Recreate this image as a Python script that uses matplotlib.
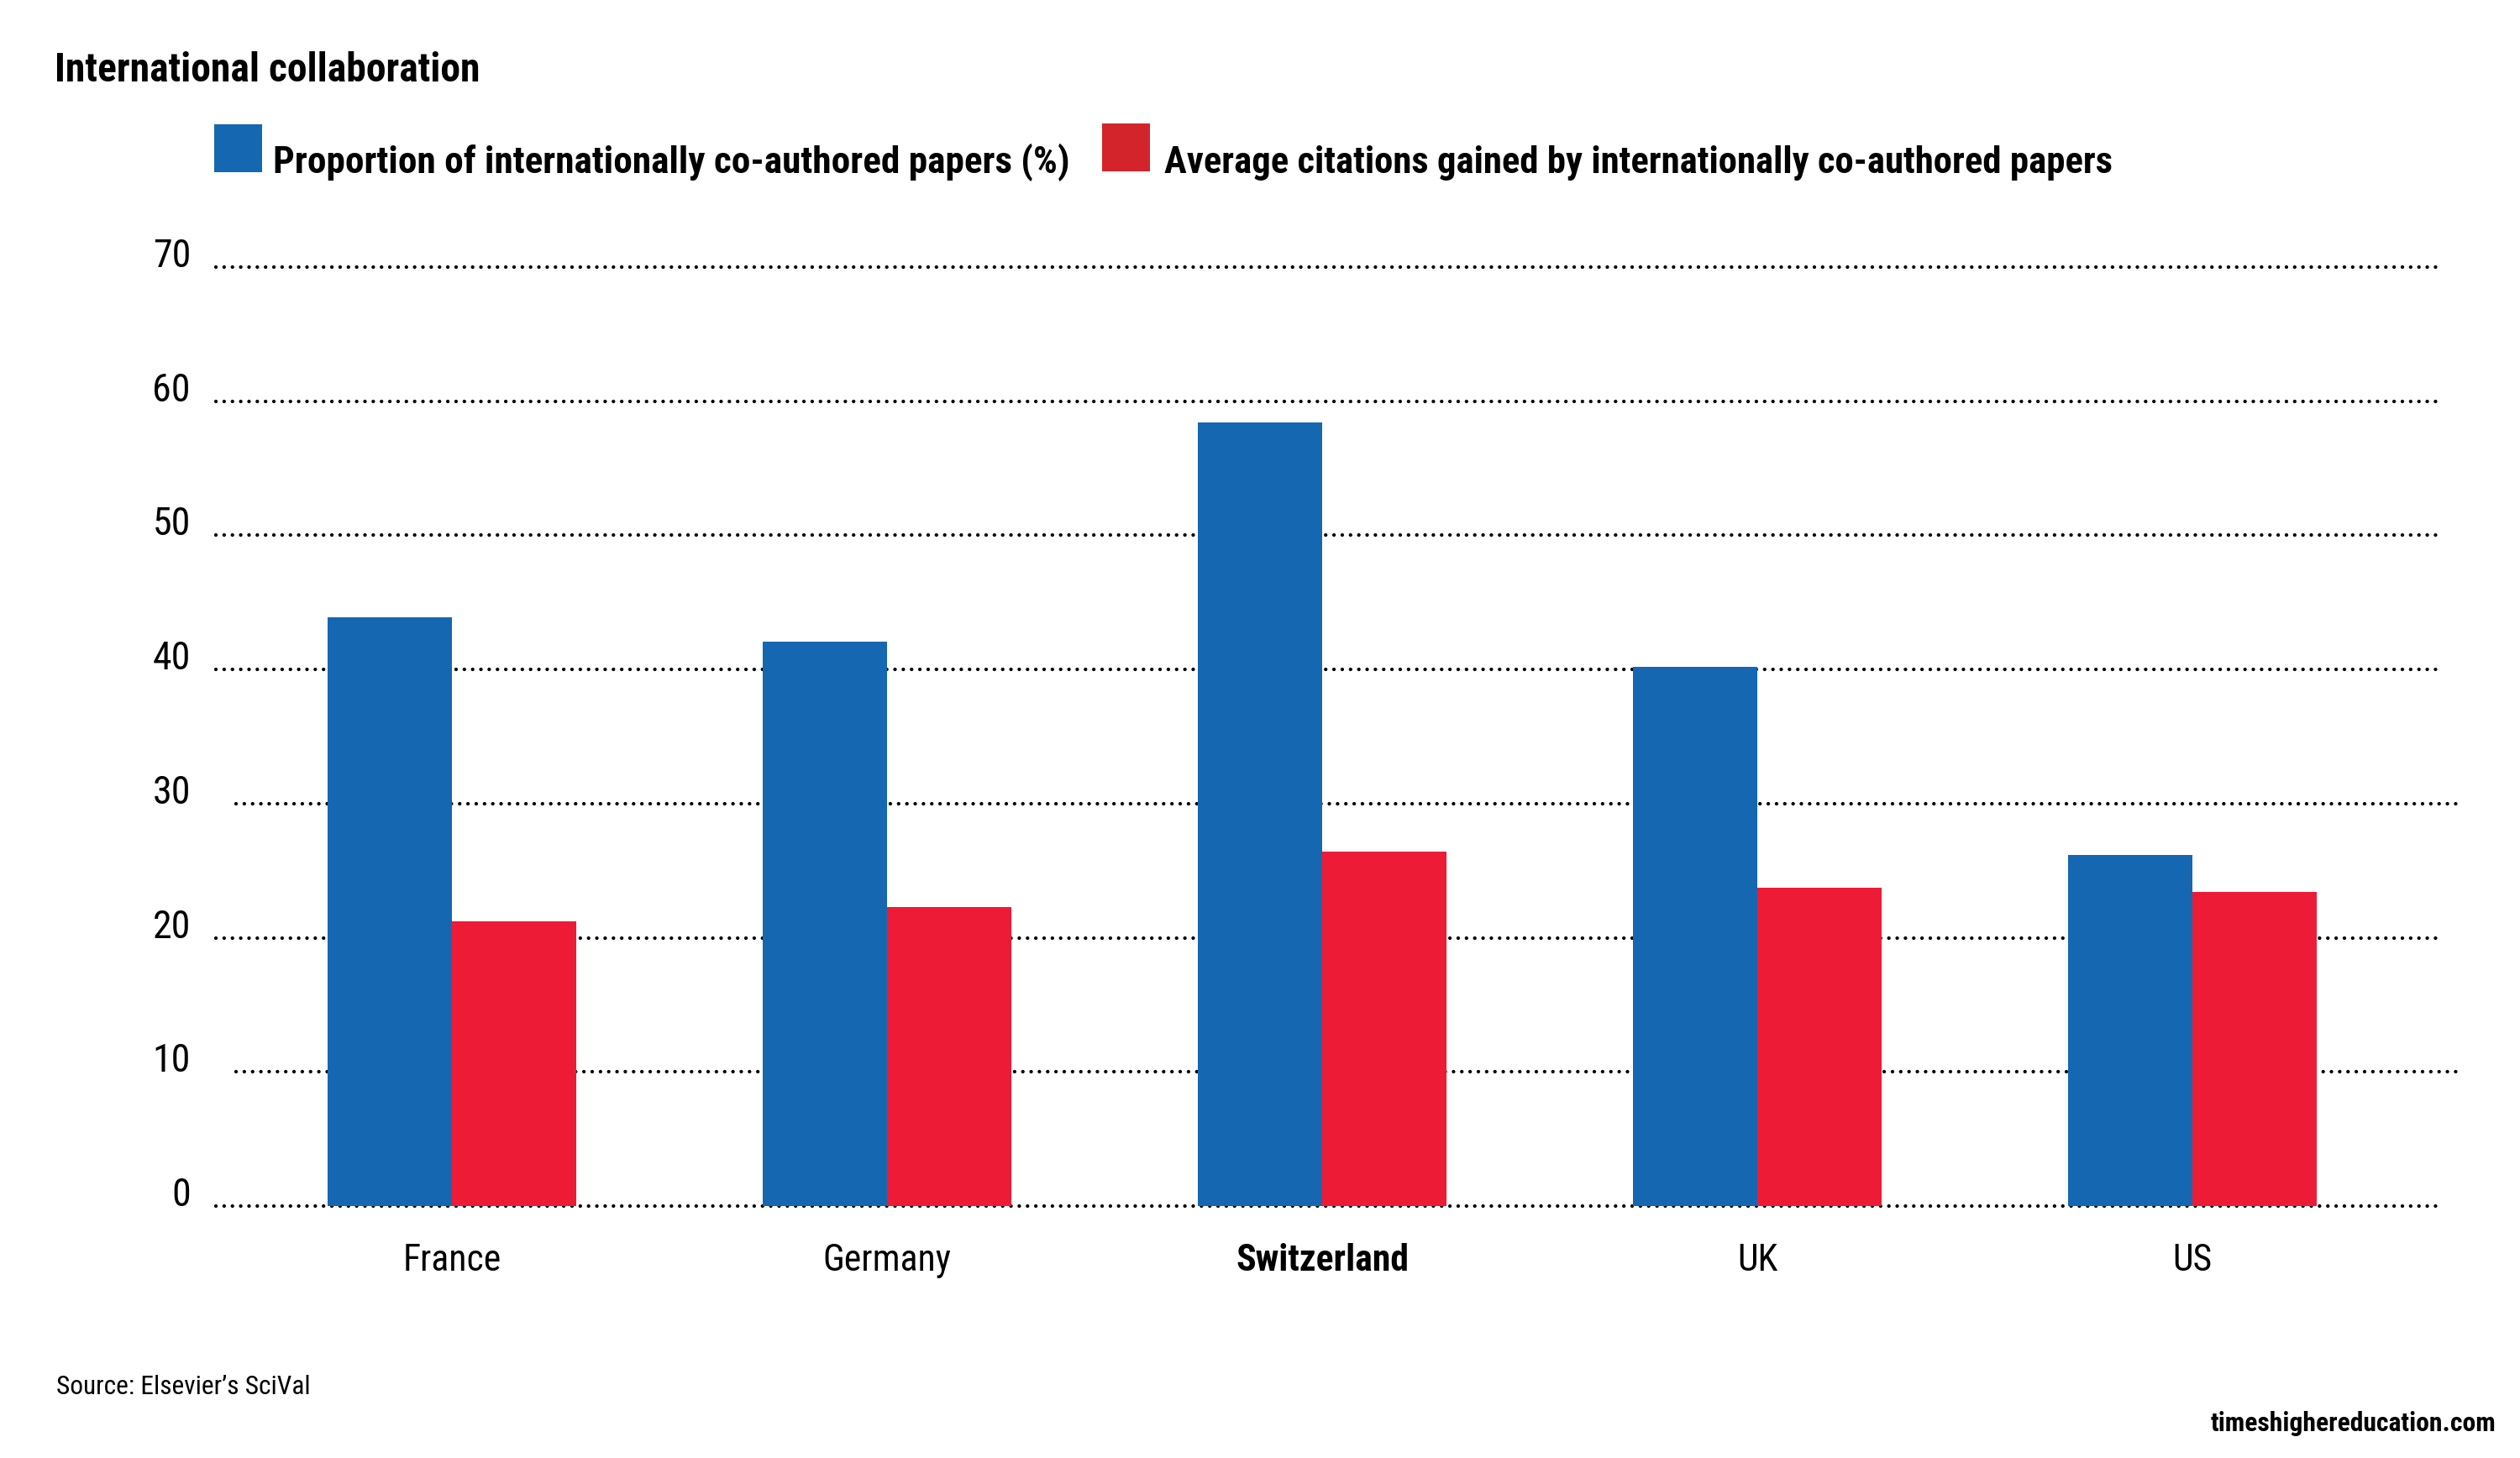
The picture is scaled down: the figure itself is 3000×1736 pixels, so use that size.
import matplotlib
matplotlib.use("Agg")
import matplotlib.pyplot as plt
import matplotlib.font_manager as fm
from matplotlib.patches import Rectangle
import numpy as np

# ---- data ----
categories = ["France", "Germany", "Switzerland", "UK", "US"]
proportion_intl = [43.9, 42.1, 58.4, 40.2, 26.2]
avg_citations_intl = [21.2, 22.3, 26.4, 23.7, 23.4]
series_names = ["Proportion of internationally co-authored papers (%)",
                "Average citations gained by internationally co-authored papers"]
y_ticks = [0, 10, 20, 30, 40, 50, 60, 70]
title = "International collaboration"
source = "Source: Elsevier\u2019s SciVal"
credit = "timeshighereducation.com"
highlight = "Switzerland"

# ---- font selection (condensed if available) ----
ttf = fm.fontManager.ttflist
names = {f.name for f in ttf}
FAM, STRETCH = None, "normal"
for cand in ["Roboto Condensed", "Liberation Sans Narrow", "Open Sans Condensed"]:
    if cand in names:
        FAM = cand
        break
if FAM is None:
    if any("DejaVuSansCondensed" in f.fname for f in ttf):
        FAM, STRETCH = "DejaVu Sans", "condensed"
    elif "Roboto" in names:
        FAM = "Roboto"
    else:
        FAM = "DejaVu Sans"

def fp(size, bold=False):
    return dict(family=FAM, fontstretch=STRETCH, fontsize=size,
                fontweight="bold" if bold else "normal")

BLUE = "#1567B2"
RED = "#EE1B37"
LEG_RED = "#D3242C"

W, H = 3000, 1736
fig = plt.figure(figsize=(30, 17.36), dpi=100)
renderer = fig.canvas.get_renderer()

def fit(t, target_px, max_size=None):
    w = t.get_window_extent(renderer).width
    s = t.get_fontsize() * target_px / w
    if max_size is not None:
        s = min(s, max_size)
    t.set_fontsize(s)

# axes placement (pixels -> fractions)
ax_left, ax_right = 257, 2902
y_zero, y_top = 1436, 318
ax = fig.add_axes([ax_left / W, (H - y_zero) / H,
                   (ax_right - ax_left) / W, (y_zero - y_top) / H])
ax.set_ylim(0, 70)
ax.set_xlim(-0.5425, 4.5637)
for s in ax.spines.values():
    s.set_visible(False)
ax.set_yticks([])
ax.tick_params(axis="x", length=0, pad=32)

x = np.arange(len(categories))
bw = 0.285
ax.bar(x - bw / 2, proportion_intl, width=bw, color=BLUE, zorder=3)
ax.bar(x + bw / 2, avg_citations_intl, width=bw, color=RED, zorder=3)

# dotted gridlines (10 and 30 shifted slightly right as in the original)
for v in y_ticks:
    if v in (10, 30):
        xmin, xmax = 0.009, 1.0087
    else:
        xmin, xmax = 0.0, 1.0
    ax.axhline(v, xmin=xmin, xmax=xmax, color="black", lw=3.1,
               linestyle=(0, (0.01, 2.28)), dash_capstyle="round",
               zorder=1, clip_on=False)
    ax.text(-30 / (ax_right - ax_left), v, str(v), transform=ax.get_yaxis_transform(),
            ha="right", va="baseline", color="black", **fp(33))

ax.set_xticks(x)
ax.set_xticklabels(categories)
for lab in ax.get_xticklabels():
    lab.set_family(FAM)
    lab.set_stretch(STRETCH)
    lab.set_fontsize(31.5)
    lab.set_color("black")
    if lab.get_text() == highlight:
        lab.set_fontweight("bold")

# title
t = fig.text(65 / W, 1 - 97 / H, title, ha="left", va="baseline", **fp(32, True))
fit(t, 507, 36)

# legend
leg_items = [(255, 148, BLUE, 325, 949, series_names[0]),
             (1312, 147, LEG_RED, 1386, 1132, series_names[1])]
for (sx, sy, col, tx, tw, txt) in leg_items:
    fig.add_artist(Rectangle((sx / W, 1 - (sy + 57) / H), 57 / W, 57 / H,
                             transform=fig.transFigure, color=col, lw=0))
    t = fig.text(tx / W, 1 - 206 / H, txt, ha="left", va="baseline", **fp(32, True))
    fit(t, tw, 35)

# footer
t = fig.text(67 / W, 1 - 1660 / H, source, ha="left", va="baseline", **fp(23))
fit(t, 304, 26)
t = fig.text(2971 / W, 1 - 1704 / H, credit, ha="right", va="baseline", **fp(23, True))
fit(t, 341, 26)

fig.savefig("out.png", dpi=100, facecolor="white")
